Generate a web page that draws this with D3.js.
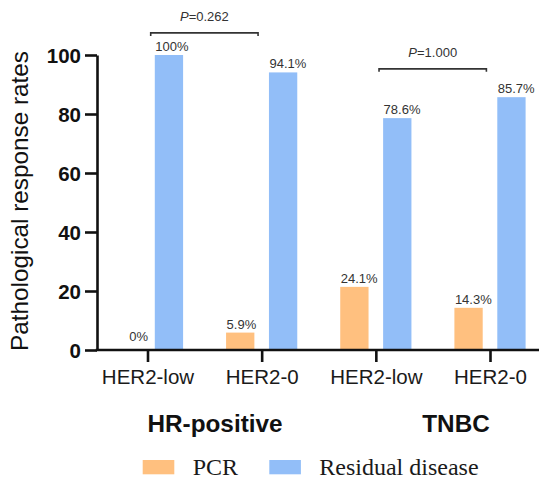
<!DOCTYPE html>
<html>
<head>
<meta charset="utf-8">
<script src="https://cdn.jsdelivr.net/npm/d3@7"></script>
<style>
  html, body { margin: 0; padding: 0; background: #fff; }
  svg { display: block; }
</style>
</head>
<body>
<svg id="chart" width="539" height="480"></svg>
<script>
// ---------- data ----------
const groups = ["HR-positive", "TNBC"];
const subtypes = ["HER2-low", "HER2-0", "HER2-low", "HER2-0"];
const groupOf = [0, 0, 1, 1];
const series = ["PCR", "Residual disease"];
const pcrValues = [0, 5.9, 21.4, 14.3];
const pcrLabels = ["0%", "5.9%", "24.1%", "14.3%"];
const residualValues = [100, 94.1, 78.6, 85.7];
const residualLabels = ["100%", "94.1%", "78.6%", "85.7%"];
const yTicks = [0, 20, 40, 60, 80, 100];
const comparisons = [
  { from: 0, to: 1, level: 107.5, text: "0.262" },
  { from: 2, to: 3, level: 95.3, text: "1.000" }
];
const colors = ["#ffc07f", "#92bef8"];

// ---------- layout ----------
const svg = d3.select("#chart");
const axisX = 97, baseY = 350, topY = 55;
const y = d3.scaleLinear().domain([0, 100]).range([baseY, topY]);
const x = d3.scalePoint().domain(d3.range(subtypes.length)).range([147.5, 490]);
const inner = d3.scaleBand().domain(series).range([-35.6, 35.6]).paddingInner(0.34).paddingOuter(0);
const ink = "#111";

// bars
const rows = subtypes.map((s, i) => [
  { s: series[0], v: pcrValues[i], lab: pcrLabels[i], i },
  { s: series[1], v: residualValues[i], lab: residualLabels[i], i }
]).flat();

svg.append("g").selectAll("rect").data(rows).join("rect")
  .attr("x", d => x(d.i) + inner(d.s))
  .attr("y", d => y(d.v))
  .attr("width", inner.bandwidth())
  .attr("height", d => y(0) - y(d.v))
  .attr("fill", d => colors[series.indexOf(d.s)]);

// value labels
svg.append("g").selectAll("text").data(rows).join("text")
  .attr("x", d => d.v === 0 ? x(d.i) + 0.5 : x(d.i) + inner(d.s) + 0.5)
  .attr("y", d => d.v === 0 ? y(0) - 9 : y(d.v) - 4)
  .attr("text-anchor", d => d.v === 0 ? "end" : "start")
  .attr("font-family", "Arial, 'Liberation Sans', sans-serif")
  .attr("font-size", 13)
  .attr("fill", "#333")
  .text(d => d.lab);

// y axis
const yAxis = d3.axisLeft(y).tickValues(yTicks).tickSize(12).tickSizeOuter(0).tickPadding(4);
const gy = svg.append("g").attr("transform", `translate(${axisX},0)`).call(yAxis);
gy.select(".domain").attr("stroke", ink).attr("stroke-width", 2.6);
gy.selectAll(".tick line").attr("stroke", ink).attr("stroke-width", 2.6);
gy.selectAll(".tick text")
  .attr("font-family", "Arial, 'Liberation Sans', sans-serif")
  .attr("font-size", 20.5).attr("font-weight", "bold").attr("fill", ink)
  .attr("dy", "0.35em");

// x axis
const xAxis = d3.axisBottom(x).tickSize(12).tickSizeOuter(0).tickPadding(7).tickFormat(i => subtypes[i]);
const gx = svg.append("g").attr("transform", `translate(0,${baseY})`).call(xAxis);
gx.select(".domain").attr("d", `M${axisX - 1.3},0H539`).attr("stroke", ink).attr("stroke-width", 2.6);
gx.selectAll(".tick line").attr("stroke", ink).attr("stroke-width", 2.6);
gx.selectAll(".tick text")
  .attr("font-family", "Arial, 'Liberation Sans', sans-serif")
  .attr("font-size", 20.5).attr("fill", "#1a1a1a");

// y title
svg.append("text")
  .attr("transform", "translate(28,201) rotate(-90)")
  .attr("text-anchor", "middle")
  .attr("font-family", "Arial, 'Liberation Sans', sans-serif")
  .attr("font-size", 24.3).attr("fill", ink)
  .text("Pathological response rates");

// group labels
const groupLabelX = [215, 456];
svg.append("g").selectAll("text").data(groups).join("text")
  .attr("x", (g, k) => groupLabelX[k])
  .attr("y", 432)
  .attr("text-anchor", "middle")
  .attr("font-family", "Arial, 'Liberation Sans', sans-serif")
  .attr("font-size", 24.3).attr("font-weight", "bold").attr("fill", ink)
  .text(g => g);

// comparison brackets
const br = svg.append("g");
comparisons.forEach(c => {
  const x1 = x(c.from) + 3.2, x2 = x(c.to) - 3.6, yy = y(c.level);
  br.append("path")
    .attr("d", `M${x1},${yy + 3}V${yy}H${x2}V${yy + 3}`)
    .attr("fill", "none").attr("stroke", "#333").attr("stroke-width", 1.6);
  const t = br.append("text")
    .attr("x", (x1 + x2) / 2).attr("y", yy - 11.8)
    .attr("text-anchor", "middle")
    .attr("font-family", "Arial, 'Liberation Sans', sans-serif")
    .attr("font-size", 13).attr("fill", "#333");
  t.append("tspan").attr("font-style", "italic").text("P");
  t.append("tspan").text("=" + c.text);
});

// legend
const legendX = [142.7, 269.3];
const lg = svg.append("g").selectAll("g").data(series).join("g")
  .attr("transform", (s, k) => `translate(${legendX[k]},460)`);
lg.append("rect").attr("width", 31.6).attr("height", 14.3)
  .attr("fill", (s, k) => colors[k]);
lg.append("text").attr("x", 50).attr("y", 15)
  .attr("font-family", "'Liberation Serif', 'Times New Roman', serif")
  .attr("font-size", 24).attr("fill", "#1a1a1a")
  .text(s => s);
</script>
</body>
</html>
